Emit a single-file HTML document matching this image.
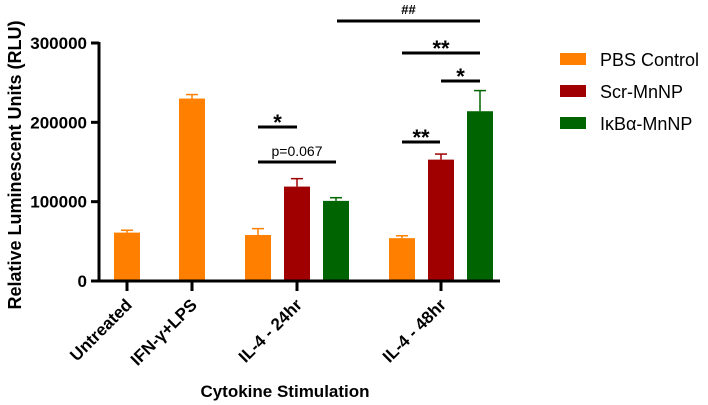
<!DOCTYPE html>
<html><head><meta charset="utf-8"><style>
body{margin:0;background:#fff}
svg{display:block;font-family:"Liberation Sans",Arial,sans-serif}
</style></head><body>
<svg id="chart" width="708" height="405" viewBox="0 0 708 405"></svg>
<script>
const categories=["Untreated","IFN-γ+LPS","IL-4 - 24hr","IL-4 - 48hr"];
const seriesNames=["PBS Control","Scr-MnNP","IκBα-MnNP"];
const pbsValues=[61000,230000,58000,54000];
const pbsErrors=[3000,5000,8000,3000];
const scrValues=[null,null,119000,153000];
const scrErrors=[null,null,10000,7000];
const ikbValues=[null,null,101000,214000];
const ikbErrors=[null,null,4000,26000];
const yTicks=[0,100000,200000,300000];
const colors=["#ff8000","#a00000","#006400"];
const ns="http://www.w3.org/2000/svg";
const svg=document.getElementById('chart');
const y0=281,yTop=43,yMax=300000;
function yScale(v){return y0-(v/yMax)*(y0-yTop);}
const groupCenters=[127,192,297,441];
const barW=26,barStep=39;
function mk(tag,attrs,parent){const e=document.createElementNS(ns,tag);for(const k in attrs)e.setAttribute(k,attrs[k]);(parent||svg).appendChild(e);return e;}
const allVals=[pbsValues,scrValues,ikbValues],allErr=[pbsErrors,scrErrors,ikbErrors];
categories.forEach((c,i)=>{
  const present=[0,1,2].filter(s=>allVals[s][i]!=null);
  present.forEach((s,k)=>{
    const cx=groupCenters[i]+(k-(present.length-1)/2)*barStep;
    const v=allVals[s][i],e=allErr[s][i];
    const eb=mk('line',{x1:cx,x2:cx,y1:yScale(v),y2:yScale(v+e),stroke:colors[s],'stroke-width':1.5});
    
    
    const cap=mk('line',{x1:cx-6,x2:cx+6,y1:yScale(v+e),y2:yScale(v+e),stroke:colors[s],'stroke-width':1.5});
    
    
    const r=mk('rect',{x:cx-barW/2,y:yScale(v),width:barW,height:y0-yScale(v),fill:colors[s]});
    
    
  });
  const t=mk('line',{x1:groupCenters[i],x2:groupCenters[i],y1:y0,y2:y0+10,stroke:'#000','stroke-width':3});
  
  
  const lb=mk('text',{x:0,y:0,'font-size':17,'font-weight':'bold','text-anchor':'end',transform:`translate(${groupCenters[i]+6},${y0+25}) rotate(-45)`});
  lb.textContent=c;
  
  
});
const ya=mk('line',{x1:99,x2:99,y1:yTop-1,y2:y0+1.5,stroke:'#000','stroke-width':3});


const xa=mk('line',{x1:91,x2:500,y1:y0,y2:y0,stroke:'#000','stroke-width':3});


yTicks.forEach(v=>{
  const t=mk('line',{x1:91,x2:99,y1:yScale(v),y2:yScale(v),stroke:'#000','stroke-width':3});
  
  
  const l=mk('text',{x:87,y:yScale(v)+6,'font-size':17,'font-weight':'bold','text-anchor':'end'});
  l.textContent=String(v);
  
  
});
const sig=[[258,297,127,"*",-6],[258,336,162,"p=0.067",-6],[402,440,142,"**",-6],[441,480,81,"*",-6],[402,480,53,"**",-6],[337,480,21,"##",-7]];
sig.forEach(s=>{
  const l=mk('line',{x1:s[0],x2:s[1],y1:s[2],y2:s[2],stroke:'#000','stroke-width':3});
  
  
  const isP=s[3].startsWith('p');
  const t=mk('text',{x:(s[0]+s[1])/2,y:s[2]+s[4]+(s[3].includes('*')?9:0),'font-size':isP?14:(s[3]=='##'?13:22),'font-weight':isP?'normal':'bold','text-anchor':'middle'});
  t.textContent=s[3];
  
  
});
const yt=mk('text',{x:0,y:0,'font-size':18,'font-weight':'bold','text-anchor':'middle',transform:'translate(21,165) rotate(-90)'});
yt.textContent="Relative Luminescent Units (RLU)";


const xt=mk('text',{x:285,y:397,'font-size':17,'font-weight':'bold','text-anchor':'middle'});
xt.textContent="Cytokine Stimulation";


seriesNames.forEach((n,i)=>{
  const r=mk('rect',{x:560,y:53+i*32,width:26,height:12,fill:colors[i]});
  
  
  const t=mk('text',{x:600,y:66+i*32,'font-size':18});
  t.textContent=n;
  
  
});
</script>
</body></html>
